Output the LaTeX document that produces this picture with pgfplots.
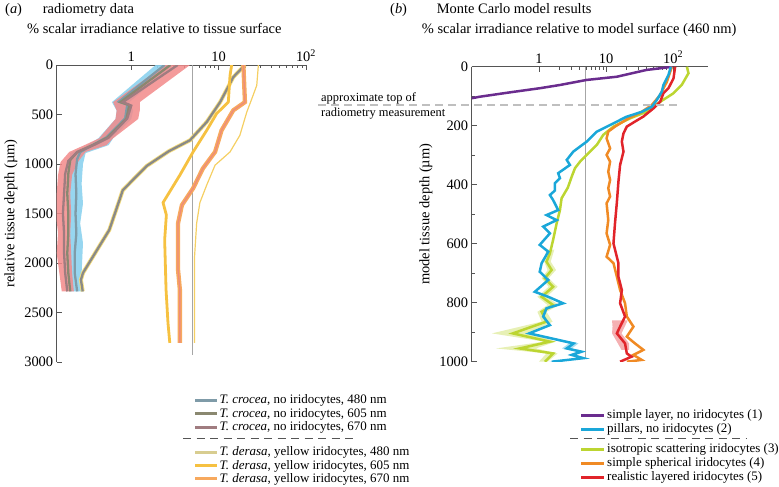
\documentclass[border=0pt]{standalone}
\usepackage{fontspec}
\setmainfont{Liberation Serif}
\usepackage{pgfplots}
\pgfplotsset{compat=1.18}
\definecolor{cblue}{HTML}{8CD2EE}
\definecolor{cred}{HTML}{F28A8A}
\definecolor{l480}{HTML}{7F9BA8}
\definecolor{l605}{HTML}{8A8870}
\definecolor{l670}{HTML}{A07C80}
\definecolor{d480}{HTML}{D8CD90}
\definecolor{dhalo}{HTML}{F4DC7C}
\definecolor{dgray}{HTML}{8A8A88}
\definecolor{d605}{HTML}{F6C141}
\definecolor{d670}{HTML}{F7A95E}
\definecolor{d670c}{HTML}{EE8C7A}
\definecolor{dthin}{HTML}{F5CF63}
\definecolor{mpurple}{HTML}{6A2C8E}
\definecolor{mcyan}{HTML}{1AA7D9}
\definecolor{mgreen}{HTML}{BCD531}
\definecolor{morange}{HTML}{F08A24}
\definecolor{mred}{HTML}{E1242A}
\definecolor{axc}{HTML}{555555}
\begin{document}
\begin{tikzpicture}
\useasboundingbox (0,0) rectangle (779bp,487bp);
% ---------------- panel (a)
\begin{axis}[at={(56.7bp,422bp)}, anchor=north west,
  scale only axis, xmode=log, y dir=reverse,
  axis x line*=top, axis y line*=left,
  axis line style={axc, line width=0.8bp},
  every tick/.style={axc, line width=0.6bp},
  tick align=inside,
  major tick length=5bp, minor tick length=3bp,
  tick label style={font=\fontsize{14.5}{16}\selectfont},
  label style={font=\fontsize{14.5}{16}\selectfont},
  /pgf/number format/assume math mode=true,
  /pgf/number format/1000 sep={},
  xtick={1,10,100}, xticklabels={1,10,10\textsuperscript{2}},
  legend cell align=left,
  legend image code/.code={\draw[#1] (0bp,0bp) -- (22bp,0bp);},
  width=249.3bp, height=297bp,
  xmin=0.14, xmax=100, ymin=0, ymax=3000,
  ytick={0,500,...,3000},
  ylabel={relative tissue depth (µm)},
  legend style={at={(axis description cs:0.548,-0.106)}, anchor=north west, draw=none, fill=none,
    font=\fontsize{13}{14}\selectfont, row sep=0pt, inner sep=0pt,
    nodes={inner xsep=1.2bp, inner ysep=0pt, text height=10.2bp, text depth=3.2bp}},
]
\addplot[forget plot, gray!70, line width=0.7bp] coordinates {(5,0) (5,2930)};
% crocea 480 band
\addplot[forget plot, draw=none, fill=cblue, fill opacity=0.9] coordinates {
(1.9,0) (0.6,375) (0.68,460) (0.66,545) (0.42,740) (0.3,820) (0.2,890) (0.195,1000) (0.19,1200) (0.195,1500) (0.19,1800) (0.19,2100) (0.2,2287)
(0.28,2287) (0.27,2100) (0.28,1800) (0.26,1600) (0.28,1400) (0.27,1200) (0.28,1000) (0.3,890) (0.55,810) (0.62,740) (1.0,545) (1.05,460) (0.95,375) (3.0,0)} -- cycle;
% crocea 670 band
\addplot[forget plot, draw=none, fill=cred, fill opacity=0.85] coordinates {
(2.4,0) (0.62,375) (0.68,460) (0.66,545) (0.43,740) (0.29,810) (0.195,878) (0.155,980) (0.145,1110) (0.14,1300) (0.137,1500) (0.145,1700) (0.14,1900) (0.15,2100) (0.16,2287)
(0.22,2287) (0.21,2100) (0.205,1900) (0.2,1700) (0.205,1500) (0.2,1300) (0.21,1110) (0.245,980) (0.3,878) (0.52,810) (0.62,740) (1.2,545) (1.25,460) (1.25,375) (4.7,0)} -- cycle;
% crocea lines
\addplot[forget plot, l480, line width=2.3bp] coordinates {(2.4,0) (0.72,370) (0.9,400) (0.85,540) (0.52,730) (0.36,810) (0.26,880) (0.24,950) (0.23,1100) (0.235,1300) (0.23,1500) (0.235,1700) (0.225,1900) (0.225,2100) (0.24,2287)};
\addplot[forget plot, l605, line width=2.3bp] coordinates {(2.8,0) (0.75,375) (0.95,405) (0.88,540) (0.53,735) (0.37,805) (0.24,880) (0.2,960) (0.19,1100) (0.185,1300) (0.19,1500) (0.19,1700) (0.185,1900) (0.19,2100) (0.2,2287)};
\addplot[forget plot, l670, line width=2.3bp] coordinates {(3.4,0) (0.8,375) (1.0,410) (0.9,540) (0.55,735) (0.38,805) (0.24,880) (0.19,970) (0.175,1100) (0.17,1300) (0.165,1500) (0.17,1700) (0.17,1900) (0.175,2100) (0.185,2287)};
% derasa thin
\addplot[forget plot, dthin, line width=1.2bp] coordinates {(28.5,0) (27.3,206) (24,340) (21,475) (17.5,710) (13.5,878) (9.1,1012) (7.3,1213) (6.1,1390) (5.6,1599) (5.3,1935) (5.3,2807)};
% derasa 480
\addplot[forget plot, dhalo, line width=4bp] coordinates {(20,0) (14.7,123) (10.4,375) (7.3,576) (4.7,760) (2.7,870) (1.5,1020) (0.8,1264) (0.56,1666) (0.28,2100) (0.265,2170) (0.278,2287)};
\addplot[forget plot, dgray, line width=2.3bp] coordinates {(20,0) (14.7,123) (10.4,375) (7.3,576) (4.7,760) (2.7,870) (1.5,1020) (0.8,1264) (0.56,1666) (0.28,2100) (0.265,2170) (0.278,2287)};
% derasa 605
\addplot[forget plot, d605, line width=2.8bp] coordinates {(14.1,0) (13.5,105) (12.9,375) (9.5,490) (7.3,660) (5.1,878) (3.6,1112) (2.31,1390) (2.52,1515) (2.41,1767) (2.5,2270) (2.63,2605) (2.76,2807)};
% derasa 670
\addplot[forget plot, d670, line width=4.3bp] coordinates {(19.2,0) (20,375) (14.7,458) (10.8,660) (9.1,878) (6.6,1045) (5.1,1246) (3.8,1414) (3.43,1599) (3.43,2069) (3.6,2270) (3.6,2807)};
\addplot[forget plot, d670c, line width=1.3bp] coordinates {(19.2,0) (20,375) (14.7,458) (10.8,660) (9.1,878) (6.6,1045) (5.1,1246) (3.8,1414) (3.43,1599) (3.43,2069) (3.6,2270) (3.6,2807)};
% legend
\addlegendimage{l480, line width=3bp}\addlegendentry{\textit{T. crocea}, no iridocytes, 480 nm}
\addlegendimage{l605, line width=3bp}\addlegendentry{\textit{T. crocea}, no iridocytes, 605 nm}
\addlegendimage{l670, line width=3bp}\addlegendentry{\textit{T. crocea}, no iridocytes, 670 nm}
\addlegendimage{empty legend}\addlegendentry[text height=8.4bp, text depth=3.2bp]{}
\addlegendimage{d480, line width=3bp}\addlegendentry{\textit{T. derasa}, yellow iridocytes, 480 nm}
\addlegendimage{d605, line width=3bp}\addlegendentry{\textit{T. derasa}, yellow iridocytes, 605 nm}
\addlegendimage{d670, line width=3bp}\addlegendentry{\textit{T. derasa}, yellow iridocytes, 670 nm}
\end{axis}
% ---------------- panel (b)
\begin{axis}[at={(471.7bp,420.3bp)}, anchor=north west,
  scale only axis, xmode=log, y dir=reverse,
  axis x line*=top, axis y line*=left,
  axis line style={axc, line width=0.8bp},
  every tick/.style={axc, line width=0.6bp},
  tick align=inside,
  major tick length=5bp, minor tick length=3bp,
  tick label style={font=\fontsize{14.5}{16}\selectfont},
  label style={font=\fontsize{14.5}{16}\selectfont},
  /pgf/number format/assume math mode=true,
  /pgf/number format/1000 sep={},
  xtick={1,10,100}, xticklabels={1,10,10\textsuperscript{2}},
  legend cell align=left,
  legend image code/.code={\draw[#1] (0bp,0bp) -- (23bp,0bp);},
  width=236.3bp, height=295bp,
  xmin=0.1, xmax=330, ymin=0, ymax=1000,
  ytick={0,200,...,1000}, minor ytick={100,300,...,900},
  ylabel={model tissue depth (µm)},
  legend style={at={(axis description cs:0.458,-0.157)}, anchor=north west, draw=none, fill=none,
    font=\fontsize{13}{14}\selectfont, row sep=0pt, inner sep=0pt,
    nodes={inner xsep=1.5bp, inner ysep=0pt, text height=10.6bp, text depth=3.4bp}},
]
\addplot[forget plot, gray!70, line width=0.7bp] coordinates {(5,0) (5,990)};
% bands
\addplot[forget plot, draw=none, fill=mgreen!45, fill opacity=0.8] coordinates {
(1.3,620) (1.2,660) (1.35,690) (1.1,717) (1.4,746) (0.95,780) (1.35,808) (0.95,831) (1.1,864) (0.2,904) (1.2,932) (0.23,955) (1.3,972) (1.0,1000)
(1.35,1000) (1.9,972) (0.9,955) (1.8,932) (0.75,904) (1.6,864) (1.3,831) (2.0,808) (1.3,780) (1.9,746) (1.4,717) (1.8,689) (1.5,661) (1.7,620)} -- cycle;
\addplot[forget plot, draw=none, fill=mcyan!45, fill opacity=0.8] coordinates {
(0.65,904) (2.8,938) (2.2,955) (3.7,966) (2.7,977) (3.9,988) (1.4,1000)
(1.8,1000) (5.1,988) (3.6,977) (5.0,966) (3.1,955) (3.9,938) (0.8,904)} -- cycle;
\addplot[forget plot, draw=none, fill=mred!45, fill opacity=0.8] coordinates {
(12.3,860) (12.5,881) (12.3,904) (15,938) (17,960)
(22,960) (22,938) (17,904) (19,881) (21,860)} -- cycle;
% lines
\addplot[forget plot, mpurple, line width=2.5bp] coordinates {(100,0) (40,11) (14.5,34) (5.1,45) (2.06,62) (1.03,73) (0.37,87) (0.13,102) (0.1,107)};
\addplot[forget plot, mgreen, line width=2.5bp] coordinates {(160,0) (169,22) (134,62) (101,90) (64,119) (40,153) (22.8,175) (12.9,203) (9.1,231) (7.3,265) (5.15,299) (4.1,322) (3.45,344) (3.08,373) (2.7,410) (2.18,446) (2.06,486) (1.84,531) (1.63,587) (1.46,633) (1.3,661) (1.55,689) (1.23,717) (1.63,746) (1.1,780) (1.63,808) (1.1,831) (1.3,864) (0.41,904) (1.46,932) (0.52,955) (1.63,972) (1.23,1000)};
\addplot[forget plot, morange, line width=2.5bp] coordinates {(95.6,0) (80.5,51) (64,96) (48,130) (34,153) (21.6,175) (13.6,203) (10.8,220) (10.2,243) (11.5,277) (10.2,299) (11.5,322) (10.8,356) (11.5,384) (10.8,412) (11.5,440) (10.2,463) (10.8,520) (10.2,565) (11.5,604) (10.2,644) (12.9,666) (14.5,712) (16.2,757) (19.2,802) (20.4,847) (25.6,881) (20.4,915) (27,938) (36,960) (25.6,977) (34,994) (20.4,1000)};
\addplot[forget plot, mred, line width=2.5bp] coordinates {(107,0) (101,40) (85,73) (71.6,90) (64,119) (51,141) (36,169) (27,186) (20.4,203) (18.2,226) (17.2,254) (18.2,288) (16.2,333) (15.3,390) (14.5,460) (13.6,531) (12.9,599) (15.3,666) (15.3,712) (17.2,757) (16.2,802) (19.2,847) (16.2,881) (14.5,904) (19.2,938) (20.4,972) (24,983) (16.2,1000)};
\addplot[forget plot, mcyan, line width=2.5bp] coordinates {(92.5,0) (85,28) (71.6,62) (67.5,85) (57,113) (48,136) (34,153) (20,170) (12.9,192) (7.3,220) (5.15,254) (3.25,288) (2.6,316) (2.9,333) (1.94,361) (2.06,378) (1.73,395) (1.73,420) (1.46,435) (1.63,452) (1.94,486) (1.3,503) (1.84,520) (1.16,542) (1.46,565) (1.03,604) (1.38,627) (1.1,666) (1.03,695) (1.38,723) (0.87,763) (1.38,780) (2.3,802) (1.3,819) (1.16,847) (1.46,876) (0.72,904) (3.3,938) (2.6,955) (4.3,966) (3.1,977) (4.6,988) (1.55,1000)};
\addlegendimage{mpurple, line width=2.6bp}\addlegendentry{simple layer, no iridocytes (1)}
\addlegendimage{mcyan, line width=2.6bp}\addlegendentry{pillars, no iridocytes (2)}
\addlegendimage{empty legend}\addlegendentry[text height=3bp, text depth=3bp]{}
\addlegendimage{mgreen, line width=2.6bp}\addlegendentry{isotropic scattering iridocytes (3)}
\addlegendimage{morange, line width=2.6bp}\addlegendentry{simple spherical iridocytes (4)}
\addlegendimage{mred, line width=2.6bp}\addlegendentry{realistic layered iridocytes (5)}
\end{axis}
% ---------------- annotations
\begin{scope}[font=\fontsize{14.5}{16}\selectfont]
\node[anchor=base west, inner sep=0] at (5bp,473.5bp) {(\textit{a})};
\node[anchor=base west, inner sep=0] at (42.7bp,473.5bp) {radiometry data};
\node[anchor=base west, inner sep=0] at (27bp,453bp) {\% scalar irradiance relative to tissue surface};
\node[anchor=base west, inner sep=0] at (390bp,473.5bp) {(\textit{b})};
\node[anchor=base west, inner sep=0] at (436.7bp,473.5bp) {Monte Carlo model results};
\node[anchor=base west, inner sep=0] at (421.7bp,453bp) {\% scalar irradiance relative to model surface (460 nm)};
\end{scope}
\begin{scope}[font=\fontsize{12.5}{14}\selectfont]
\node[anchor=base west, inner sep=0] at (321bp,385.5bp) {approximate top of};
\node[anchor=base west, inner sep=0] at (321bp,370.3bp) {radiometry measurement};
\end{scope}
\draw[gray!50, line width=1.3bp, dash pattern=on 8bp off 5bp] (318bp,382bp) -- (677bp,382bp);
\draw[axc, line width=1bp, dash pattern=on 8bp off 5.5bp] (183bp,48.7bp) -- (358bp,48.7bp);
\draw[axc, line width=1bp, dash pattern=on 8bp off 5.5bp] (570bp,48.7bp) -- (747bp,48.7bp);
\end{tikzpicture}
\end{document}
